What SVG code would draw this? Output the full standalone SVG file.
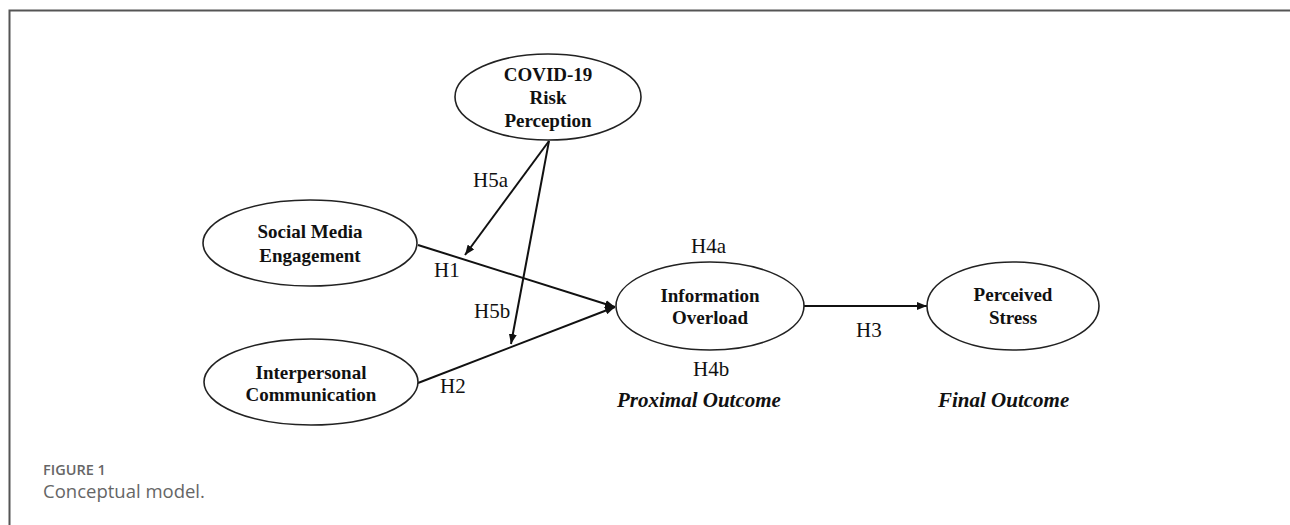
<svg xmlns="http://www.w3.org/2000/svg" width="1290" height="525" viewBox="0 0 1290 525">
<defs>
<marker id="ah" viewBox="0 0 10 8" refX="10" refY="4" markerWidth="10" markerHeight="8" markerUnits="userSpaceOnUse" orient="auto">
<path d="M0,0 L10,4 L0,8 Z" fill="#111"/>
</marker>
</defs>
<style>
.node ellipse{fill:#fff;stroke:#222;stroke-width:1.6}
.nt{font-family:"Liberation Serif","Times New Roman",serif;font-weight:bold;font-size:19px;fill:#111;text-anchor:middle}
.lb{font-family:"Liberation Serif","Times New Roman",serif;font-size:21px;fill:#111}
.oc{font-family:"Liberation Serif","Times New Roman",serif;font-size:21px;font-weight:bold;font-style:italic;fill:#111}
.edges line{stroke:#111;stroke-width:2;marker-end:url(#ah)}
.cap1{font-family:"Open Sans",sans-serif;font-size:14.5px;fill:#666;font-weight:600}
.cap2{font-family:"Open Sans",sans-serif;font-size:18.5px;fill:#666}
</style>
<rect width="1290" height="525" fill="#fff"/>
<path d="M9.5,525 V10.5 H1290" fill="none" stroke="#555" stroke-width="2"/>
<g class="edges">
<line x1="418" y1="245" x2="615" y2="307"/>
<line x1="418" y1="383" x2="615" y2="307"/>
<line x1="804" y1="306" x2="927" y2="306"/>
<line x1="549" y1="141" x2="465" y2="255"/>
<line x1="549" y1="141" x2="511" y2="344"/>
</g>
<g id="covid" class="node">
<ellipse cx="548" cy="97" rx="93" ry="43"/>
<text class="nt" x="548" y="81">COVID-19</text>
<text class="nt" x="548" y="104">Risk</text>
<text class="nt" x="548" y="127">Perception</text>
</g>
<g id="social" class="node">
<ellipse cx="310" cy="243" rx="107" ry="43"/>
<text class="nt" x="310" y="238">Social Media</text>
<text class="nt" x="310" y="262">Engagement</text>
</g>
<g id="interpersonal" class="node">
<ellipse cx="311" cy="382" rx="107" ry="43"/>
<text class="nt" x="311" y="379">Interpersonal</text>
<text class="nt" x="311" y="401">Communication</text>
</g>
<g id="overload" class="node">
<ellipse cx="710" cy="306" rx="94" ry="44"/>
<text class="nt" x="710" y="302">Information</text>
<text class="nt" x="710" y="324">Overload</text>
</g>
<g id="stress" class="node">
<ellipse cx="1013" cy="306" rx="86" ry="44"/>
<text class="nt" x="1013" y="301">Perceived</text>
<text class="nt" x="1013" y="324">Stress</text>
</g>
<g id="labels">
<text class="lb" x="473" y="187">H5a</text>
<text class="lb" x="434" y="277">H1</text>
<text class="lb" x="474" y="318">H5b</text>
<text class="lb" x="440" y="393">H2</text>
<text class="lb" x="691" y="253">H4a</text>
<text class="lb" x="856" y="337">H3</text>
<text class="lb" x="693" y="376">H4b</text>
<text class="oc" x="617" y="407">Proximal Outcome</text>
<text class="oc" x="938" y="407">Final Outcome</text>
</g>
<g id="caption">
<text class="cap1" x="43" y="475">FIGURE 1</text>
<text class="cap2" x="43" y="498">Conceptual model.</text>
</g>
</svg>
